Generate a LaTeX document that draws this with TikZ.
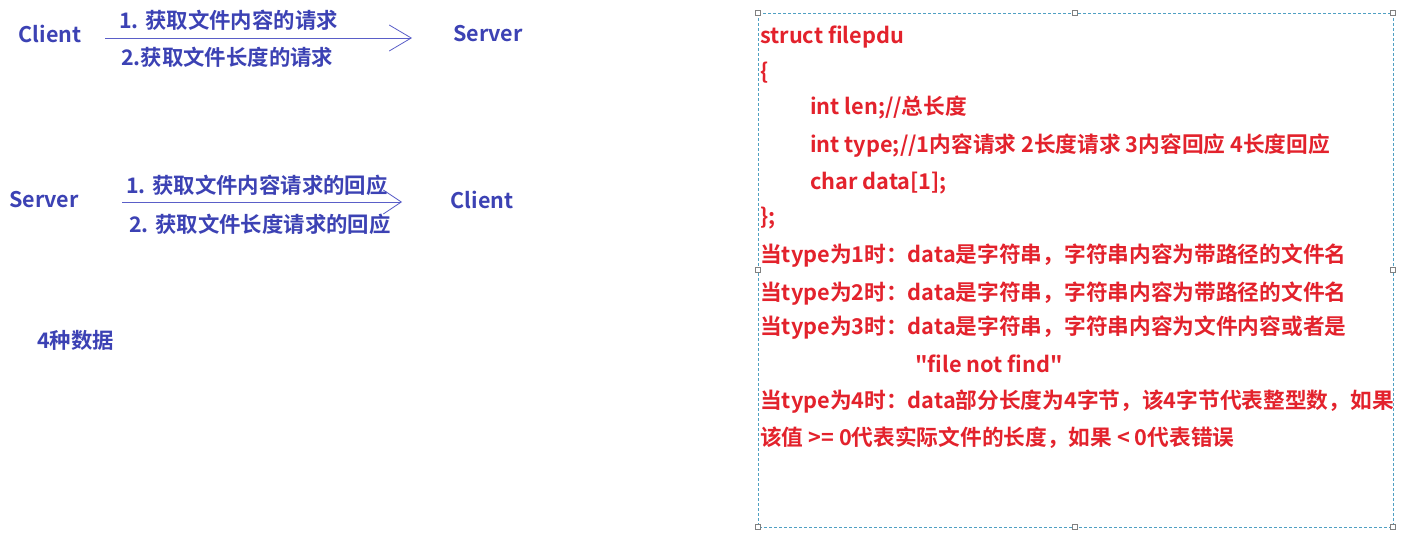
\documentclass[tikz,border=0pt]{standalone}
\usepackage{fontspec}
\usepackage{tikz}
\usetikzlibrary{arrows.meta, positioning, calc}
\newfontfamily\cjk{Noto Sans CJK SC}[BoldFont={Noto Sans CJK SC Bold}]
\definecolor{msgblue}{RGB}{60,66,180}
\definecolor{lineblue}{RGB}{90,94,200}
\definecolor{pdured}{RGB}{227,34,44}
\definecolor{frameblue}{RGB}{80,160,195}
\tikzset{
  actor/.style={font=\cjk\bfseries\fontsize{21.5}{25}\selectfont, text=msgblue, inner sep=0pt},
  msg/.style={font=\cjk\bfseries\fontsize{21.4}{25}\selectfont, text=msgblue, inner sep=0pt, anchor=west},
  flow/.style={draw=lineblue, line width=0.9pt, -{Straight Barb[length=22pt, width=26pt, line width=0.8pt]}},
  code/.style={font=\cjk\bfseries\fontsize{21.7}{25}\selectfont, text=pdured, inner sep=0pt, anchor=west},
  handle/.style={draw=gray, fill=white, line width=0.5pt, minimum size=5pt, inner sep=0pt}
}
\begin{document}
\begin{tikzpicture}[x=1pt, y=-1pt]
\useasboundingbox[fill=white] (0,0) rectangle (1403,537);
% request: client -> server
\node[actor] (client1) at (50,34) {Client};
\node[actor] (server1) at (488,34) {Server};
\coordinate (a1) at (105,38);
\coordinate (b1) at (412,38);
\draw[flow] (a1) -- (b1);
\node[msg] (req1) at (119,20) {1. 获取文件内容的请求};
\node[msg] (req2) at (121,57) {2.获取文件长度的请求};
% response: server -> client
\node[actor] (server2) at (44,200) {Server};
\node[actor] (client2) at (482,200) {Client};
\coordinate (a2) at (122,202);
\coordinate (b2) at (402,202);
\draw[flow, -{Straight Barb[length=18pt, width=24pt, line width=0.8pt]}] (a2) -- (b2);
\node[msg] (resp1) at (126,185) {1. 获取文件内容请求的回应};
\node[msg] (resp2) at (129,224) {2. 获取文件长度请求的回应};
\node[msg] (kinds) at (37,340) {4种数据};
% pdu text box
\draw[frameblue, line width=0.8pt, dash pattern=on 3pt off 2pt] (758,13) rectangle (1393,527);
\foreach \hx/\hy in {758/13, 1075/13, 1393/13, 758/270, 1393/270, 758/527, 1075/527, 1393/527}
  \node[handle] at (\hx,\hy) {};
\node[code] (l1) at (760,37) {struct filepdu};
\node[code] (l2) at (760,73) {\{};
\node[code] (l3) at (810,108) {int len;//总长度};
\node[code] (l4) at (810,146) {int type;//1内容请求 2长度请求 3内容回应 4长度回应};
\node[code] (l5) at (810,183) {char data[1];};
\node[code] (l6) at (760,218) {\};};
\node[code] (l7) at (760,256) {当type为1时：data是字符串，字符串内容为带路径的文件名};
\node[code] (l8) at (760,294) {当type为2时：data是字符串，字符串内容为带路径的文件名};
\node[code] (l9) at (760,328) {当type为3时：data是字符串，字符串内容为文件内容或者是};
\node[code] (l10) at (915,364) {"file not find"};
\node[code] (l11) at (760,402) {当type为4时：data部分长度为4字节，该4字节代表整型数，如果};
\node[code] (l12) at (760,438) {该值 >= 0代表实际文件的长度，如果 < 0代表错误};
\end{tikzpicture}
\end{document}
